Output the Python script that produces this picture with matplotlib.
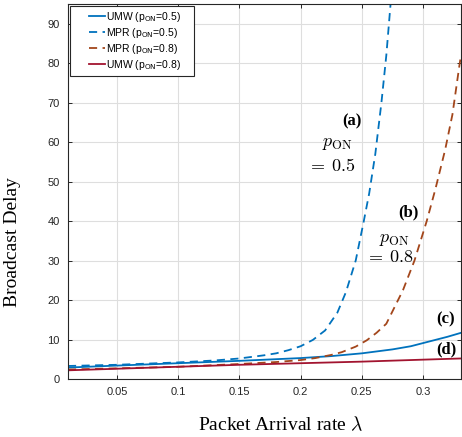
import matplotlib
matplotlib.use("Agg")
import matplotlib.pyplot as plt
from matplotlib.legend_handler import HandlerLine2D
from matplotlib.lines import Line2D

plt.rcParams['mathtext.fontset'] = 'cm'

# ---- data ----
umw05_x = [0.01, 0.05, 0.1, 0.15, 0.2, 0.225, 0.25, 0.275, 0.29, 0.3, 0.31, 0.32, 0.331]
umw05_y = [2.9, 3.4, 4.0, 4.6, 5.3, 5.8, 6.5, 7.5, 8.3, 9.1, 9.9, 10.7, 11.7]

mpr05_x = [0.01, 0.05, 0.1, 0.13, 0.15, 0.17, 0.18, 0.19, 0.2, 0.21, 0.22, 0.23, 0.237,
           0.245, 0.2516, 0.256, 0.261, 0.266, 0.27, 0.274]
mpr05_y = [3.3, 3.6, 4.2, 4.7, 5.2, 6.0, 6.5, 7.3, 8.3, 9.9, 12.3, 16.8, 22,
           30, 40, 47, 57, 70, 82, 97]

mpr08_x = [0.01, 0.05, 0.1, 0.15, 0.18, 0.2, 0.212, 0.225, 0.2336, 0.245, 0.254, 0.262,
           0.27, 0.2836, 0.293, 0.303, 0.31, 0.318, 0.324, 0.3295, 0.331]
mpr08_y = [2.4, 2.7, 3.1, 3.8, 4.3, 4.8, 5.3, 6.1, 6.8, 8.2, 9.8, 11.7,
           14, 22.5, 30, 40, 48, 58, 67, 79, 82]

umw08_x = [0.01, 0.05, 0.1, 0.15, 0.2, 0.25, 0.3, 0.331]
umw08_y = [2.2, 2.6, 3.1, 3.6, 4.0, 4.4, 4.9, 5.2]

xticks = [0.05, 0.1, 0.15, 0.2, 0.25, 0.3]
xticklabels = ['0.05', '0.1', '0.15', '0.2', '0.25', '0.3']
yticks = [0, 10, 20, 30, 40, 50, 60, 70, 80, 90]

c_blue = '#0072BD'
c_brown = '#A3461B'
c_red = '#A2142F'

fig = plt.figure(figsize=(4.62, 4.37), dpi=100)
ax = fig.add_axes([68/462, 58/437, (461-68)/462, (379-4)/437])

lw = 1.3
pad = '    '
ax.plot(umw05_x, umw05_y, '-', color=c_blue, lw=lw, label=r'UMW (p$_{\mathrm{ON}}$=0.5)' + pad)
ax.plot(mpr05_x, mpr05_y, '--', color=c_blue, lw=lw, dashes=(4.5, 3), label=r'MPR (p$_{\mathrm{ON}}$=0.5)' + pad)
ax.plot(mpr08_x, mpr08_y, '--', color=c_brown, lw=lw, dashes=(4.5, 3), label=r'MPR (p$_{\mathrm{ON}}$=0.8)' + pad)
ax.plot(umw08_x, umw08_y, '-', color=c_red, lw=lw, label=r'UMW (p$_{\mathrm{ON}}$=0.8)' + pad)

ax.set_xlim(0.01, 0.331)
ax.set_ylim(0, 95)
ax.set_xticks(xticks)
ax.set_xticklabels(xticklabels)
ax.set_yticks(yticks)
ax.grid(True, color='#dedede', lw=0.8)
ax.set_axisbelow(True)
ax.tick_params(direction='in', top=True, right=True, length=3, width=0.7,
               labelsize=8, labelcolor='#262626', color='#262626', pad=6)
for lab in ax.get_xticklabels() + ax.get_yticklabels():
    lab.set_family('Liberation Sans')
for s in ax.spines.values():
    s.set_color('#262626')
    s.set_linewidth(0.8)

ax.set_xlabel(r'Packet Arrival rate $\lambda$', family='Liberation Serif', fontsize=14)
ax.set_ylabel('Broadcast Delay', family='Liberation Serif', fontsize=14)
ax.xaxis.set_label_coords((280 - 68) / 393, -(416 - 379) / 375)
ax.yaxis.set_label_coords(-(68 - 21) / 393, (379 - 242) / 375)

hm = {Line2D: HandlerLine2D(xpad=1.5)}
leg = ax.legend(loc='upper left', prop={'family': 'Liberation Sans', 'size': 7.5},
                handlelength=3.0, handletextpad=0.05, borderaxespad=0.15,
                fancybox=False, framealpha=1, borderpad=0.4, labelspacing=0.2,
                handler_map=hm)
leg.get_frame().set_edgecolor('#262626')
leg.get_frame().set_linewidth(0.8)
for t in leg.get_texts():
    t.set_math_fontfamily('dejavusans')


def put(xp, yp, s, size=11, **kw):
    ax.annotate(s, xy=(xp/462, 1 - yp/437), xycoords='figure fraction',
                ha='center', va='center', fontsize=size, **kw)

put(352, 121, '(a)', family='Liberation Serif', weight='bold', size=12)
put(337, 143, r'$p_{\mathrm{ON}}$', size=13)
put(331, 166, r'$=\;0.5$', size=13)
put(408, 212, '(b)', family='Liberation Serif', weight='bold', size=12)
put(394, 239, r'$p_{\mathrm{ON}}$', size=13)
put(390, 257, r'$=\;0.8$', size=13)
put(446, 319, '(c)', family='Liberation Serif', weight='bold', size=12)
put(446, 349, '(d)', family='Liberation Serif', weight='bold', size=12)

fig.savefig('out.png', dpi=100)
